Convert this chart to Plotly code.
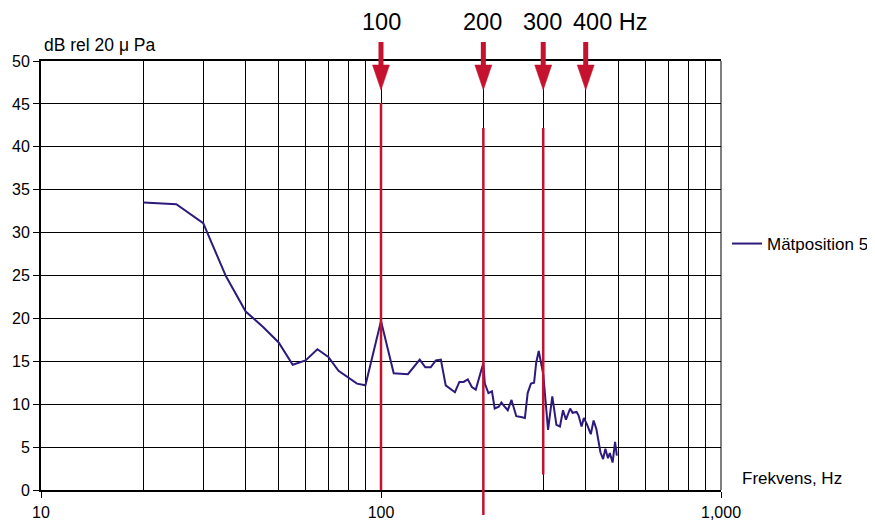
import plotly.graph_objects as go

# ---- data ----
freq_hz = [20, 25, 30, 35, 40, 45, 50, 55, 60, 65, 70, 75, 85, 90, 100,
           109, 120, 130, 135, 140, 145, 150, 155, 165, 170, 175, 180, 185, 190,
           200, 202, 207, 212, 216, 222, 226, 230, 236, 242, 250, 258, 265, 270,
           276, 282, 286, 291, 300, 310, 319, 328, 336, 343, 350, 360, 366, 376,
           381, 389, 395, 404, 414, 422, 430, 442, 450, 457, 465, 471, 480, 488, 494]
level_db = [33.5, 33.3, 31.1, 24.9, 20.8, 19.0, 17.2, 14.6, 15.1, 16.4, 15.5, 13.9, 12.4, 12.2, 19.7,
            13.6, 13.5, 15.2, 14.3, 14.3, 15.1, 15.2, 12.2, 11.4, 12.6, 12.6, 12.9, 12.0, 11.7,
            14.8, 12.4, 11.3, 11.5, 9.5, 9.7, 10.2, 9.8, 9.3, 10.5, 8.6, 8.5, 8.4, 11.3,
            12.4, 12.5, 14.8, 16.2, 13.5, 7.0, 10.9, 7.6, 7.4, 9.3, 8.2, 9.5, 9.0, 9.1,
            8.7, 7.4, 8.4, 7.6, 6.5, 8.1, 7.1, 4.4, 3.6, 4.8, 3.7, 4.3, 3.2, 5.6, 4.0]
series_name = "Mätposition 5"

marker_freqs = [100, 200, 300]
marker_top_db = [45.1, 42.2, 42.2]
marker_bottom_db = [0.0, -2.9, 1.8]

arrow_freqs = [100, 200, 300, 400]

x_tick_vals = [10, 100, 1000]
x_tick_text = ["10", "100", "1,000"]
x_minor_vals = [20, 30, 40, 50, 60, 70, 80, 90, 200, 300, 400, 500, 600, 700, 800, 900]

Y_MIN, Y_MAX = 0, 50
X_DECADES = 2

RED = "#c4122f"
FONT = "Liberation Sans"

# page body has an 8px default margin -> figure drawn at (8, 8)
OFF = 8
PL, PR, PT, PB = 41, 721, 61, 490          # plot area in screenshot pixels
W, H = 875, 521
plot_w = PR - PL
plot_h = PB - PT


def px_to_paper(px):
    return (px - PL) / plot_w


def py_to_paper(py):
    return (PB - py) / plot_h


fig = go.Figure()
fig.add_trace(go.Scatter(
    x=freq_hz, y=level_db, mode="lines", name=series_name,
    line=dict(color="#2d1a7c", width=2), showlegend=True,
))

shapes = []
for f, top, bot in zip(marker_freqs, marker_top_db, marker_bottom_db):
    shapes.append(dict(type="line", xref="x", yref="paper",
                       x0=f, x1=f, y0=(bot - Y_MIN) / (Y_MAX - Y_MIN), y1=(top - Y_MIN) / (Y_MAX - Y_MIN),
                       line=dict(color=RED, width=2.5)))

k = 10 ** (8.5 * X_DECADES / plot_w)   # half head width of 8.5 px in log units
for f in arrow_freqs:
    shapes.append(dict(type="line", xref="x", yref="paper",
                       x0=f, x1=f, y0=py_to_paper(42), y1=py_to_paper(67),
                       line=dict(color=RED, width=5)))
    yb = py_to_paper(65)
    yt = py_to_paper(90)
    shapes.append(dict(type="path", xref="x", yref="paper",
                       path=f"M {f / k},{yb} L {f * k},{yb} L {f},{yt} Z",
                       fillcolor=RED, line=dict(color=RED, width=0.5)))

shapes.append(dict(type="line", xref="paper", yref="paper", x0=1, x1=1, y0=0, y1=1,
                   line=dict(color="black", width=1)))

def ann(text, px, py, size, anchor="left"):
    return dict(text=text, xref="paper", yref="paper", x=px_to_paper(px), y=py_to_paper(py),
                xanchor=anchor, yanchor="middle", showarrow=False,
                font=dict(size=size, color="black", family=FONT))

annotations = [
    ann("dB rel 20 μ Pa", 42, 45, 17.5),
    ann("Frekvens, Hz", 740, 478, 17),
    ann("100", 381, 22, 23.5, "center"),
    ann("200", 482, 22, 23.5, "center"),
    ann("300", 542, 22, 23.5, "center"),
    ann("400 Hz", 571, 22, 23.5, "left"),
]

fig.update_layout(
    width=W, height=H,
    margin=dict(l=PL - OFF, r=W - (PR - OFF), t=PT - OFF, b=H - (PB - OFF), autoexpand=False),
    paper_bgcolor="white", plot_bgcolor="white",
    font=dict(family=FONT, size=16, color="black"),
    shapes=shapes, annotations=annotations,
    legend=dict(x=px_to_paper(727), y=py_to_paper(244), xanchor="left", yanchor="middle",
                font=dict(size=17, family=FONT), bgcolor="rgba(0,0,0,0)"),
    xaxis=dict(type="log", range=[1, 3], tickvals=x_tick_vals, ticktext=x_tick_text,
               showgrid=True, gridcolor="black", gridwidth=1,
               minor=dict(tickvals=x_minor_vals, showgrid=True, gridcolor="black", gridwidth=1, ticks=""),
               showline=True, linecolor="black", linewidth=2, mirror=True,
               ticks="outside", ticklen=6, tickcolor="black", ticklabelstandoff=1,
               tickfont=dict(size=16), zeroline=False, automargin=False),
    yaxis=dict(range=[Y_MIN, Y_MAX], dtick=5, showgrid=True, gridcolor="black", gridwidth=1,
               showline=True, linecolor="black", linewidth=2,
               ticks="outside", ticklen=6, tickcolor="black", tickfont=dict(size=16),
               zeroline=False, automargin=False),
)

fig.write_html("out.html")
